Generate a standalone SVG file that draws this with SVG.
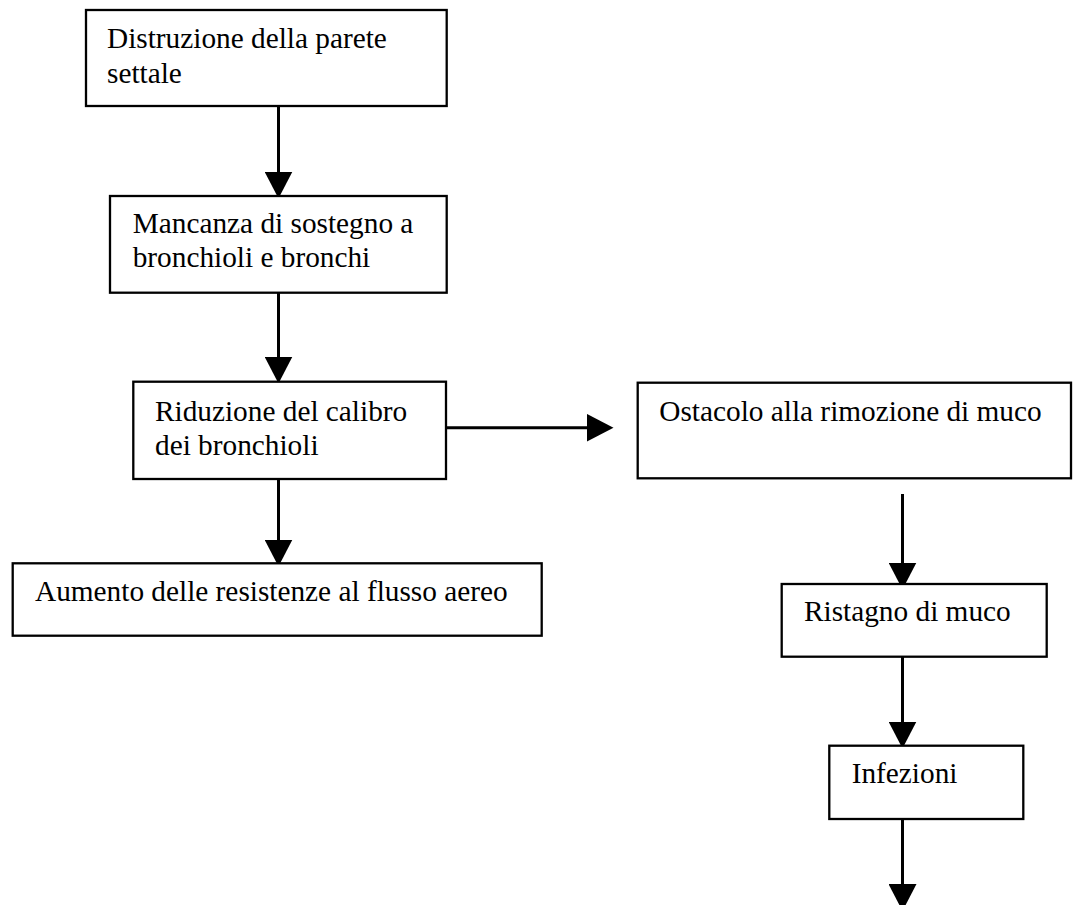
<svg xmlns="http://www.w3.org/2000/svg" width="1080" height="905" viewBox="0 0 1080 905">
  <style>
    .box { fill: #ffffff; stroke: #000000; stroke-width: 2.3; }
    .lbl { font-family: "Liberation Serif", "Times New Roman", serif; font-size: 29.3px; fill: #000000; }
    .conn { stroke: #000000; stroke-width: 3; fill: none; marker-end: url(#head); }
  </style>
  <defs>
    <marker id="head" markerUnits="userSpaceOnUse" viewBox="0 0 27 28" markerWidth="27" markerHeight="28" refX="21" refY="14" orient="auto">
      <path d="M0,0 L27,14 L0,28 Z" fill="#000000"/>
    </marker>
  </defs>
  <rect width="1080" height="905" fill="#ffffff"/>

  <g id="connectors">
    <line class="conn" x1="278.5" y1="104" x2="278.5" y2="192.5"/>
    <line class="conn" x1="278.5" y1="292" x2="278.5" y2="377.5"/>
    <line class="conn" x1="446" y1="427.7" x2="607.5" y2="427.7"/>
    <line class="conn" x1="278.5" y1="472" x2="278.5" y2="560.5"/>
    <line class="conn" x1="902.5" y1="494" x2="902.5" y2="583.5"/>
    <line class="conn" x1="902.5" y1="653" x2="902.5" y2="742.5"/>
    <line class="conn" x1="902.5" y1="815" x2="902.5" y2="905"/>
  </g>

  <g id="node-distruzione">
    <rect class="box" x="86" y="10" width="360.7" height="96"/>
    <text class="lbl" x="107" y="48.3">Distruzione della parete</text>
    <text class="lbl" x="107" y="82.5">settale</text>
  </g>

  <g id="node-mancanza">
    <rect class="box" x="110" y="196" width="336.7" height="96.7"/>
    <text class="lbl" x="132.7" y="233">Mancanza di sostegno a</text>
    <text class="lbl" x="132.7" y="267">bronchioli e bronchi</text>
  </g>

  <g id="node-riduzione">
    <rect class="box" x="133.3" y="381.7" width="312.7" height="97.3"/>
    <text class="lbl" x="155" y="420.7">Riduzione del calibro</text>
    <text class="lbl" x="155" y="454.5">dei bronchioli</text>
  </g>

  <g id="node-ostacolo">
    <rect class="box" x="637.7" y="382.7" width="433.3" height="95.6"/>
    <text class="lbl" x="659.3" y="420.7">Ostacolo alla rimozione di muco</text>
  </g>

  <g id="node-aumento">
    <rect class="box" x="12.7" y="563.3" width="529" height="72.4"/>
    <text class="lbl" x="35" y="600.7">Aumento delle resistenze al flusso aereo</text>
  </g>

  <g id="node-ristagno">
    <rect class="box" x="781.7" y="584" width="265" height="72.7"/>
    <text class="lbl" x="804" y="620.7">Ristagno di muco</text>
  </g>

  <g id="node-infezioni">
    <rect class="box" x="829.3" y="745.7" width="194" height="73.3"/>
    <text class="lbl" x="851.7" y="783.3">Infezioni</text>
  </g>
</svg>
